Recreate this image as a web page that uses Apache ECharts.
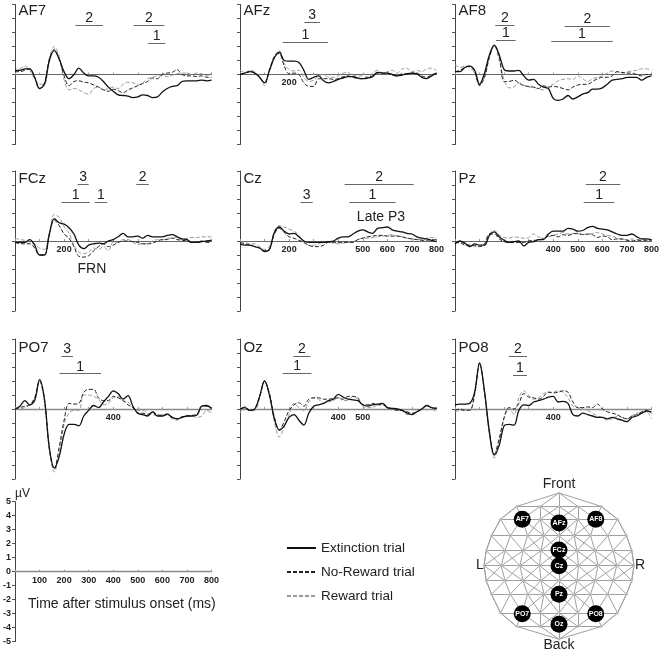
<!DOCTYPE html>
<html><head><meta charset="utf-8">
<style>html,body{margin:0;padding:0;background:#fff}#c{width:662px;height:654px}</style>
<script src="https://cdn.jsdelivr.net/npm/echarts@6/dist/echarts.min.js"></script>
</head><body><div id="c"></div>
<script>
const times = Array.from({length:41},(_,i)=>i*20);
const seriesNames = ['Reward trial','No-Reward trial','Extinction trial'];
const channels = ['AF7','AFz','AF8','FCz','Cz','Pz','PO7','Oz','PO8'];

const AF7_ext=[.3,.3,.4,.4,-.2, -1,-.7,1,1.7,1.1, .2,-.3,0,.45,.1, -.1,-.1,-.2,-.5,-.9, -1.2,-1.45,-1.5,-1.55,-1.65, -1.6,-1.45,-1.5,-1.65,-1.6, -1.25,-1,-.85,-.8,-.5, -.45,-.45,-.45,-.4,-.45, -.4];
const AF7_nor=[.2,.2,.3,.4,-.2, -1,-.6,1.1,1.8,1.1, -.1,-.8,-.5,-.45,-.55, -.6,-.75,-.9,-1.1,-1.2, -1.05,-1.15,-1.3,-1.1,-.95, -.8,-.65,-.5,-.25,-.3, 0,.1,.15,.35,0, -.1,-.1,-.15,-.1,-.2, -.2];
const AF7_rew=[.1,.4,.6,.3,-.3, -.7,-.7,1.2,2,1.3, -.4,-1.1,-1,-1.1,-1.3, -1.4,-1,-.9,-1.1,-1, -.9,-1,-.7,-.55,-.6, -.75,-.6,-.3,-.2,-.1, -.1,-.15,-.05,.05,.1, .1,0,.1,.05,-.1, .15];
const AFz_ext=[0,.1,.2,.1,-.2, -.6,.3,1.2,1.6,1, .95,.95,.85,.3,-.35, -.2,-.1,-.45,-.6,-.5, -.35,-.25,-.15,-.15,-.25, -.3,-.25,-.15,.15,.1, .1,0,-.1,-.05,.05, .1,.05,-.2,-.3,-.1, .1];
const AFz_nor=[0,.1,.2,.1,-.2, -.6,.3,1.3,1.5,.6, .05,.1,0,-.6,-.85, -.85,-.3,-.3,-.3,-.35, -.3,-.15,-.1,-.2,-.3, -.3,-.2,-.1,.1,.1, .1,-.05,-.1,.05,.05, .1,.1,-.1,-.2,0, .05];
const AFz_rew=[.3,.15,.3,.2,-.2, -.8,.4,1.3,1.7,.8, .35,.25,.3,-.2,-.5, -.4,-.1,0,-.2,-.2, -.1,.1,.15,-.1,-.1, -.1,-.2,.1,.3,.1, .2,.3,.1,.4,.45, .2,.3,.2,.4,.45, .3];
const AF8_ext=[.2,.2,.5,.6,.3, -.7,.1,1.4,2.1,1.4, .35,.25,.25,.3,-.1, -.4,-.35,-.7,-.9,-1, -1.7,-1.85,-1.75,-1.5,-1.75, -1.6,-1.4,-1.3,-1.05,-1.05, -.95,-.7,-.4,-.35,-.3, -.2,-.2,-.2,-.4,-.2, -.1];
const AF8_nor=[.2,.3,.5,.6,.2, -.8,-.2,1.2,2.1,1.3, -.5,-.5,-.4,-.6,-.8, -.85,-.9,-1,-.8,-.9, -.85,-.9,-1,-1.1,-.9, -.75,-.7,-.7,-.5,-.3, -.2,-.2,-.1,.2,.15, .1,.1,0,-.1,0, 0];
const AF8_rew=[.7,.5,.6,.5,.1, -.7,-.2,1.3,2,1, -.4,-.95,-.9,-.6,-.75, -.9,-.9,-1.05,-1.1,-.85, -.7,-.45,-.35,-.3,-.35, -.1,-.3,-.5,-.3,-.2, -.1,.1,.25,.2,.1, .2,.25,.3,.4,.4, .3];
const FCz_ext=[-.1,-.1,-.1,.1,-.3, -1,-1,.5,1.6,1.3, 1.2,.95,.5,-.3,-.55, -.3,-.2,-.15,-.2,0, .1,.3,.55,.3,.3, .35,.2,.4,.3,.3, .3,.4,.45,.3,.15, .1,-.1,-.1,-.05,0, .05];
const FCz_nor=[-.1,-.2,-.2,-.2,-.5, -1,-1,.5,1.5,1.1, .5,.2,-.4,-1.1,-1.15, -1.05,-.7,-.4,-.2,-.4, -.3,-.1,0,0,-.05, -.1,-.2,-.2,-.15,0, .1,.1,.2,.1,.05, 0,-.1,-.1,0,-.1, -.1];
const FCz_rew=[.2,.1,.05,-.1,-.2, -.5,-.6,.6,1.9,1.7, 1,.55,-.3,-.8,-.9, -.8,-.5,-.6,-.4,-.7, -.1,-.1,.1,.1,-.1, -.25,-.2,-.2,0,.1, .1,.2,.2,.25,.1, .2,.25,.25,.3,.3, .3];
const Cz_ext=[-.2,-.3,-.3,-.4,-.5, -.75,-.6,.6,1,.7, .5,.55,.3,0,-.1, -.1,-.1,-.1,-.05,0, .2,.3,.3,.5,.7, .8,.65,.55,.9,.95, 1,.8,.7,.65,.55, .5,.3,.2,.15,.05, -.05];
const Cz_nor=[-.1,-.2,-.3,-.4,-.5, -.7,-.6,.5,.9,.6, .3,.2,.05,-.1,-.3, -.4,-.4,-.3,-.1,-.1, -.1,-.1,-.1,-.1,.1, .2,.3,.35,.4,.4, .35,.35,.35,.3,.2, .15,.1,.05,.05,.1, .1];
const Cz_rew=[-.05,-.1,-.2,-.2,-.4, -.6,-.4,.7,1.1,1, .85,.7,.4,-.1,-.3, -.3,-.2,-.1,-.1,-.15, -.2,-.15,-.1,-.05,.1, .2,.2,.25,.3,.35, .4,.45,.35,.3,.2, .15,.1,.1,.2,.25, .2];
const Pz_ext=[-.2,0,-.15,-.4,-.2, -.3,-.3,.4,.65,.3, .05,-.1,-.05,0,-.35, -.1,-.05,.1,.1,.5, .7,.7,.7,.9,.85, .7,.75,.95,1.05,.9, .85,.8,.65,.5,.4, .4,.5,.3,.15,.15, .1];
const Pz_nor=[-.1,-.1,-.3,-.3,-.3, -.4,-.2,.5,.5,.15, -.05,-.1,-.1,-.1,-.1, 0,.05,.05,.2,.35, .4,.3,.45,.4,.5, .55,.45,.5,.45,.25, .35,.3,.1,.15,.15, .05,0,.05,.05,.05, .05];
const Pz_rew=[-.1,-.15,-.2,-.3,-.4, -.4,-.3,.5,.75,.4, .25,.2,.3,.25,.2, .25,.5,.3,.2,.3, .4,.5,.6,.5,.55, .5,.5,.45,.55,.6, .5,.4,.35,.2,.1, .1,.15,.1,.1,.1, .05];
const PO7_ext=[0,.2,.6,.3,.6, 2.1,.7,-2.8,-4.2,-3.4, -1.8,-1.1,-1.1,-1.2,-.5, -.1,.25,.1,.5,.9, 1.3,1.1,.7,.95,.2, -.3,-.4,-.5,-.2,-.5, -.5,-.35,-.6,-.7,-.6, -.5,-.5,-.45,.2,.25, .05];
const PO7_nor=[0,.1,.2,.3,.8, 2,.6,-2.8,-4.3,-2.7, -.8,.4,.35,.4,1.2, 1.4,1.4,.8,.6,.6, .9,.8,.6,.3,.1, -.3,-.3,-.4,-.2,-.4, -.5,-.4,-.6,-.7,-.55, -.5,-.45,-.4,.2,.2, 0];
const PO7_rew=[0,0,.1,.3,.7, 2,.7,-3,-4.5,-3.2, -1.1,-.3,-.1,-.1,1, 1,.9,.7,.3,.4, .8,.9,.6,.5,.1, -.1,-.1,-.3,-.4,-.45, -.4,-.4,-.7,-.8,-.6, -.5,-.5,-.6,-.5,-.1, -.3];
const Oz_ext=[0,.1,-.1,0,.9, 2,1,-.7,-1.5,-1.2, -.6,-.4,-.8,-1.15,-.3, .2,.3,.4,.6,.7, 1.05,.85,.7,.65,.6, .3,.2,.3,.35,.4, .1,.05,0,-.1,-.3, -.4,-.2,0,.25,.1, .05];
const Oz_nor=[0,.1,-.1,0,.9, 2,1.1,-.6,-1.5,-.9, -.1,.3,.45,.2,.7, .8,.8,.7,.7,.75, .8,.7,.9,.9,.8, .3,.3,.4,.3,.3, .1,0,-.1,-.1,-.2, -.3,-.2,0,.25,.1, .05];
const Oz_rew=[-.3,.2,-.1,-.1,.8, 2,1,-.9,-2,-1.3, -.4,.4,.1,-.1,.5, .8,.7,.4,.5,.6, .8,.6,.6,.9,.7, .2,.1,.1,.3,.35, .1,0,-.05,-.1,-.4, -.4,-.2,0,.2,.1, -.3];
const PO8_ext=[.3,.35,.35,.4,1.2, 3.3,1.3,-1.6,-3.3,-2.6, -1.2,-1.1,-1.15,-.1,.3, .25,.5,.6,.7,.85, .9,.5,.55,.4,-.4, -.5,-.3,-.4,-.5,-.6, -.6,-.7,-.6,-.7,-.8, -.9,-.6,-.5,-.3,-.15, -.2];
const PO8_nor=[-.1,0,-.1,-.1,1.1, 3.3,1.2,-1.7,-3.2,-2.1, -.6,.1,0,.4,1.1, .85,.8,.7,.9,1.2, 1.15,1.2,1.3,1.2,.5, .1,.1,.15,.1,.35, 0,-.2,-.3,-.4,-.6, -.7,-.5,-.4,-.2,-.1, -.3];
const PO8_rew=[-.2,-.1,-.1,-.1,1, 3.2,1.2,-1.8,-3.5,-2.3, -.7,.1,-.4,.8,1.3, 1,.7,.8,1.1,1.2, 1.2,1.3,1.2,.8,.2, .1,0,-.1,-.3,-.5, -.6,-.8,-.7,-.5,-.6, -.7,-.5,-.3,-.3,-.2, -.7];

const values = {
  AF7:[AF7_rew,AF7_nor,AF7_ext], AFz:[AFz_rew,AFz_nor,AFz_ext], AF8:[AF8_rew,AF8_nor,AF8_ext],
  FCz:[FCz_rew,FCz_nor,FCz_ext], Cz:[Cz_rew,Cz_nor,Cz_ext], Pz:[Pz_rew,Pz_nor,Pz_ext],
  PO7:[PO7_rew,PO7_nor,PO7_ext], Oz:[Oz_rew,Oz_nor,Oz_ext], PO8:[PO8_rew,PO8_nor,PO8_ext]
};
const tickLabels = {AF7:[],AFz:[200],AF8:[],FCz:[200],Cz:[200,500,600,700,800],Pz:[400,500,600,700,800],PO7:[400],Oz:[400,500],PO8:[400]};
const sigBars = {
  AF7:[[246,358,3.52,'2'],[483,608,3.55,'2'],[542,612,2.26,'1']],
  AFz:[[262,325,3.74,'3'],[174,358,2.33,'1']],
  AF8:[[164,242,3.5,'2'],[167,247,2.45,'1'],[447,630,3.45,'2'],[392,642,2.4,'1']],
  FCz:[[255,300,4.05,'3'],[189,304,2.8,'1'],[325,375,2.8,'1'],[494,545,4.05,'2']],
  Cz:[[426,707,4.07,'2'],[445,633,2.76,'1'],[247,296,2.76,'3']],
  Pz:[[532,673,4.07,'2'],[524,649,2.76,'1']],
  PO7:[[189,236,3.74,'3'],[181,350,2.52,'1']],
  Oz:[[217,287,3.79,'2'],[174,291,2.55,'1']],
  PO8:[[219,293,3.79,'2'],[236,293,2.43,'1']]
};
const notes = {FCz:[[313,-2,'FRN']],Cz:[[574,1.7,'Late P3']]};
const titleRows = [10,178,347];
const panelLeft = [15,240,455];
const panelZero = [74.5,241,409];
const axisTicks = [100,200,300,400,500,600,700,800];

const netRows = [[.97,[0]],[.79,[0,.25,.565]],[.62,[0,.25,.49,.78]],[.4,[0,.2,.42,.65,.9]],[.2,[0,.24,.48,.72,.97]],[0,[0,.26,.52,.77,1]],[-.2,[0,.24,.48,.72,.97]],[-.38,[0,.2,.42,.65,.9]],[-.63,[0,.25,.49,.78]],[-.81,[0,.25,.565]],[-.98,[0]]];
const electrodes = [['AF7',-.49,.62],['AFz',0,.57],['AF8',.49,.62],['FCz',0,.21],['Cz',0,0],['Pz',0,-.38],['PO7',-.49,-.64],['PO8',.49,-.64],['Oz',0,-.78]];

const FONT='"Liberation Sans",Arial,sans-serif';
const grids=[],xAxes=[],yAxes=[],series=[],graphics=[];
const styles=[{color:'#9a9a9a',width:1,type:[4,2]},{color:'#222',width:1,type:[4,2]},{color:'#111',width:1.3,type:'solid'}];

function addAxes(left,zero,labels,isKey){
  grids.push({left:left,top:zero-70,width:196.5,height:140,containLabel:false});
  const g=grids.length-1;
  xAxes.push({gridIndex:g,type:'value',min:0,max:800,interval:100,
    axisLine:{onZero:true,lineStyle:{color:g>=6?'#8a8a8a':'#666',width:g>=6?1.4:1}},
    axisTick:{show:true,inside:true,length:2,lineStyle:{color:'#999'}},
    splitLine:{show:false},
    axisLabel:{show:labels.length>0,margin:-66,fontFamily:FONT,fontSize:9,fontWeight:'bold',color:'#222',hideOverlap:false,showMinLabel:true,showMaxLabel:true,
      formatter:v=>labels.includes(v)?String(v):''}});
  yAxes.push({gridIndex:g,type:'value',min:-5,max:5,interval:1,
    name:isKey?'µV':'',nameLocation:'end',nameGap:2,nameTextStyle:{fontFamily:FONT,fontSize:12,color:'#222',align:'left'},
    axisLine:{show:true,onZero:false,lineStyle:{color:'#444'}},
    axisTick:{show:true,length:3,lineStyle:{color:'#555'}},
    splitLine:{show:false},
    axisLabel:{show:isKey,margin:4,fontFamily:FONT,fontSize:9,fontWeight:'bold',color:'#222'}});
  return g;
}

channels.forEach((ch,i)=>{
  const col=i%3,row=Math.floor(i/3);
  const g=addAxes(panelLeft[col],panelZero[row],tickLabels[ch],false);
  values[ch].forEach((vals,k)=>{
    series.push({name:seriesNames[k],type:'line',xAxisIndex:g,yAxisIndex:g,showSymbol:false,symbol:'none',smooth:.35,
      lineStyle:styles[k],itemStyle:{color:styles[k].color},z:3+k,silent:true,
      data:vals.map((v,j)=>[times[j],v])});
  });
  series.push({type:'line',xAxisIndex:g,yAxisIndex:g,data:[],silent:true,z:6,
    markLine:{silent:true,symbol:'none',animation:false,
      lineStyle:{color:'#666',width:1,type:'solid'},
      label:{show:true,position:'insideMiddleTop',distance:0,fontFamily:FONT,fontSize:14,color:'#222',formatter:p=>p.name},
      data:sigBars[ch].map(b=>[{name:b[3],coord:[b[0],b[2]]},{coord:[b[1],b[2]]}])},
    markPoint:{silent:true,symbol:'circle',symbolSize:0,animation:false,
      label:{show:true,position:'inside',fontFamily:FONT,fontSize:14,color:'#222',formatter:p=>p.name},
      data:(notes[ch]||[]).map(n=>({name:n[2],coord:[n[0],n[1]]}))}});
  graphics.push({type:'text',left:panelLeft[col]+3.5,top:titleRows[row]-6.5,style:{text:ch,font:'15px '+FONT,fill:'#222'}});
});

const key=addAxes(15,571.7,axisTicks,true);
series.push({type:'line',xAxisIndex:key,yAxisIndex:key,data:[],silent:true});

grids.push({left:484,top:490.7,width:150,height:150});
const h=grids.length-1;
xAxes.push({gridIndex:h,type:'value',min:-1,max:1,show:false});
yAxes.push({gridIndex:h,type:'value',min:-1,max:1,show:false});
const nodes=[],links=[],rowsIdx=[];
netRows.forEach(([y,xs])=>{
  const full=[...xs.slice(1).map(x=>-x).reverse(),...xs];
  const ids=full.map(x=>{nodes.push({name:'n'+nodes.length,value:[x,y],symbolSize:2.5,itemStyle:{color:'#bbb'},label:{show:false}});return {id:nodes.length-1,x};});
  rowsIdx.push(ids);
  ids.forEach((n,i)=>{if(i)links.push({source:ids[i-1].id,target:n.id});});
});
for(let r=0;r<rowsIdx.length-1;r++){
  rowsIdx[r].forEach(a=>rowsIdx[r+1].forEach(b=>{if(Math.abs(a.x-b.x)<.3)links.push({source:a.id,target:b.id});}));
}
[-1,1].forEach(sign=>{
  for(let r=0;r<rowsIdx.length-1;r++){
    const a=sign<0?rowsIdx[r][0]:rowsIdx[r][rowsIdx[r].length-1];
    const b=sign<0?rowsIdx[r+1][0]:rowsIdx[r+1][rowsIdx[r+1].length-1];
    links.push({source:a.id,target:b.id});
  }
});
electrodes.forEach(e=>{
  nodes.push({name:e[0],value:[e[1],e[2]],symbolSize:17,itemStyle:{color:'#000'},
    label:{show:true,position:'inside',formatter:e[0],fontFamily:FONT,fontSize:7,fontWeight:'bold',color:'#fff'}});
});
series.push({type:'graph',coordinateSystem:'cartesian2d',xAxisIndex:h,yAxisIndex:h,layout:'none',silent:true,z:2,
  data:nodes,links:links,lineStyle:{color:'#a0a0a0',width:1,opacity:1}});

[['Front',559,484],['Back',559,645],['L',480,565],['R',640,565]].forEach(t=>{
  graphics.push({type:'text',x:t[1],y:t[2],style:{text:t[0],font:'14px '+FONT,fill:'#222',textAlign:'center',textVerticalAlign:'middle'}});
});
graphics.push({type:'text',x:28,y:604,style:{text:'Time after stimulus onset (ms)',font:'14px '+FONT,fill:'#222',textVerticalAlign:'middle'}});

const chart=echarts.init(document.getElementById('c'),null,{renderer:'canvas'});
chart.setOption({animation:false,backgroundColor:'#fff',grid:grids,xAxis:xAxes,yAxis:yAxes,series:series,graphic:graphics,
  legend:{orient:'vertical',left:281,top:536,itemWidth:29,itemHeight:14,itemGap:10,
    itemStyle:{color:'transparent',borderColor:'transparent',borderWidth:0},
    lineStyle:{inactiveWidth:0},
    data:['Extinction trial','No-Reward trial','Reward trial'],
    textStyle:{fontFamily:FONT,fontSize:13.5,color:'#222'},selectedMode:false}});
</script></body></html>
